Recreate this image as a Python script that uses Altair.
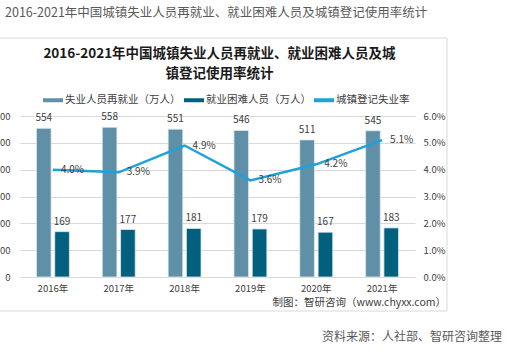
import altair as alt
import pandas as pd

years = ["2016年", "2017年", "2018年", "2019年", "2020年", "2021年"]
reemployed = [554, 558, 551, 546, 511, 545]
difficult = [169, 177, 181, 179, 167, 183]
rate = [0.040, 0.039, 0.049, 0.036, 0.042, 0.051]

s1 = "失业人员再就业（万人）"
s2 = "就业困难人员（万人）"
s3 = "城镇登记失业率"
colors = ["#5f90a8", "#02607f", "#1fa2d9"]

FONT = "Noto Sans CJK SC"
TXT = "#404040"

bars_df = pd.DataFrame({
    "year": years * 2,
    "series": [s1] * len(years) + [s2] * len(years),
    "value": reemployed + difficult,
})
line_df = pd.DataFrame({"year": years, "rate": rate})

x_enc = alt.X("year:N", sort=years, title=None,
              scale=alt.Scale(paddingInner=0.5, paddingOuter=0.25),
              axis=alt.Axis(labelAngle=0, labelFont=FONT, labelFontSize=9.5,
                            labelColor=TXT, domain=False, ticks=False,
                            labelPadding=6))
xoff = alt.XOffset("series:N", scale=alt.Scale(domain=[s1, s2], paddingInner=0.2))

y_left = alt.Y("value:Q", title=None,
               scale=alt.Scale(domain=[0, 600], nice=False),
               axis=alt.Axis(values=[0, 100, 200, 300, 400, 500, 600], format="d",
                             ticks=False, domain=False, labelPadding=10,
                             labelFont=FONT, labelFontSize=9.5, labelColor=TXT,
                             gridColor="#d9d9d9", gridWidth=1, orient="left"))

bars = alt.Chart(bars_df).mark_bar(stroke="#dfe8ee", strokeWidth=0.8).encode(
    x=x_enc,
    xOffset=xoff,
    y=y_left,
    color=alt.Color("series:N", title=None,
                    scale=alt.Scale(domain=[s1, s2, s3], range=colors),
                    legend=alt.Legend(orient="none", legendX=23, legendY=-26,
                                      direction="horizontal",
                                      symbolType="M-1,-0.2H1V0.2H-1Z",
                                      symbolSize=400, symbolStrokeWidth=0,
                                      labelFont=FONT, labelFontSize=10.5,
                                      labelColor=TXT, labelOffset=2,
                                      columnPadding=3)),
)
bar_labels = alt.Chart(bars_df).mark_text(
    dy=-10, baseline="middle", font=FONT, fontSize=10, color=TXT
).encode(
    x=x_enc,
    xOffset=xoff,
    y=y_left,
    text=alt.Text("value:Q"),
)
left = alt.layer(bars, bar_labels)

y_right = alt.Y("rate:Q", title=None,
                scale=alt.Scale(domain=[0, 0.06], nice=False),
                axis=alt.Axis(orient="right", values=[0, 0.01, 0.02, 0.03, 0.04, 0.05, 0.06],
                              format=".1%", grid=False, ticks=False, domain=False,
                              labelPadding=8, labelFont=FONT, labelFontSize=9.5,
                              labelColor=TXT))
line = alt.Chart(line_df).mark_line(color=colors[2], strokeWidth=2.5).encode(
    x=x_enc,
    y=y_right,
)
line_labels = alt.Chart(line_df).mark_text(
    align="left", dx=8, baseline="middle", font=FONT, fontSize=10, color=TXT
).encode(
    x=x_enc,
    y=y_right,
    text=alt.Text("rate:Q", format=".1%"),
)
right = alt.layer(line, line_labels)

one = pd.DataFrame({"k": [0]})
frame = alt.Chart(one).mark_rect(fillOpacity=0, stroke="#d9d9d9", strokeWidth=1).encode(
    x=alt.value(-40), x2=alt.value(427), y=alt.value(-78), y2=alt.value(195)
)

def label(text, x, y, size, color, align="left", weight="normal"):
    return alt.Chart(one).mark_text(
        text=text, align=align, baseline="middle", font=FONT, fontSize=size,
        color=color, fontWeight=weight
    ).encode(x=alt.value(x), y=alt.value(y))

outer_title = label("2016-2021年中国城镇失业人员再就业、就业困难人员及城镇登记使用率统计",
                    -15, -103, 12.5, "#595959")
t1 = label("2016-2021年中国城镇失业人员再就业、就业困难人员及城", 199.5, -62, 13.5, "#1a1a1a",
           align="center", weight="bold")
t2 = label("镇登记使用率统计", 199.5, -42, 13.5, "#1a1a1a", align="center", weight="bold")
foot1 = label("制图：智研咨询（www.chyxx.com）", 426, 187, 10.5, TXT, align="right")
foot2 = label("资料来源：人社部、智研咨询整理", 482, 221, 12, "#595959", align="right")

chart = alt.layer(frame, left, right, outer_title, t1, t2, foot1, foot2).resolve_scale(
    y="independent"
).properties(
    width=395, height=161,
    autosize=alt.AutoSizeParams(type="none"),
    padding={"left": 20, "top": 116, "right": 92, "bottom": 75},
    background="white",
).configure_view(stroke=None)

chart.save("out.html", embed_options={"renderer": "svg", "actions": False})
